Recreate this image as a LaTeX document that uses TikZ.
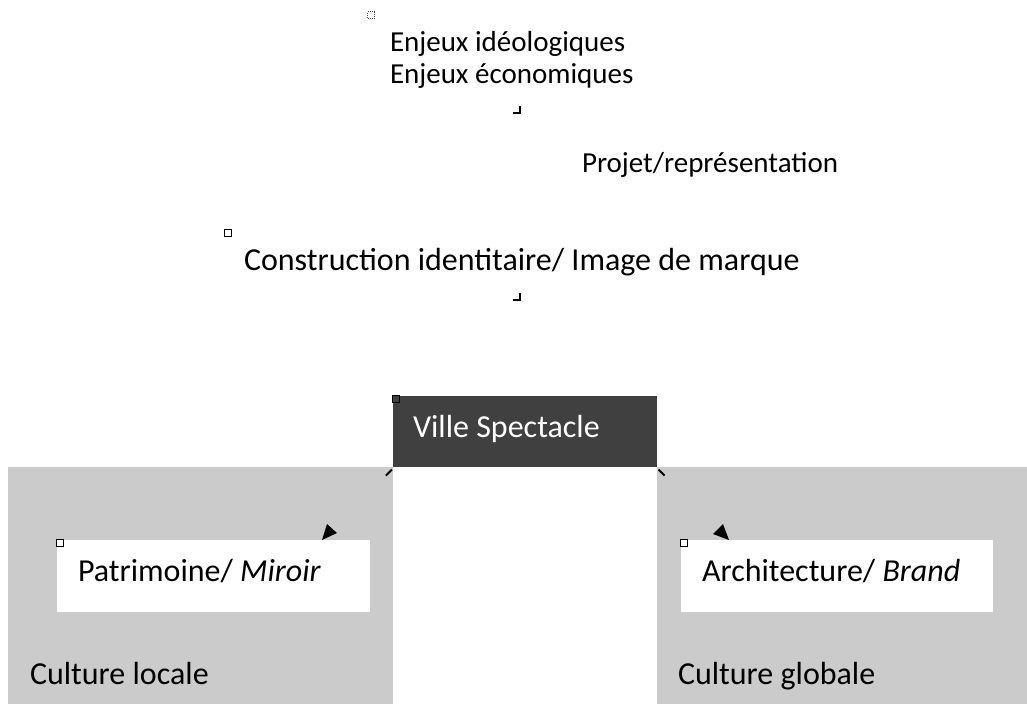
\documentclass[tikz,border=0pt]{standalone}
\usepackage{fontspec}
\setmainfont{Carlito}
\definecolor{darkbox}{HTML}{404040}
\definecolor{lightbox}{HTML}{CBCBCB}
\tikzset{
  txt/.style={anchor=base west, inner sep=0pt, outer sep=0pt},
  smalltxt/.style={txt, font=\fontsize{21.75pt}{26pt}\selectfont},
  bigtxt/.style={txt, font=\fontsize{24pt}{29pt}\selectfont},
  handle/.style={draw=black, fill=white, line width=1pt, minimum size=5pt, inner sep=0pt, outer sep=0pt},
  corner/.style={line width=1.8pt},
  tip/.style={fill=black},
}
\begin{document}
\begin{tikzpicture}[x=0.75pt,y=-0.75pt]
\useasboundingbox (0,0) rectangle (1027,704);
\fill[white] (0,0) rectangle (1027,704);
% top texts
\node[draw=black!70, densely dotted, line width=0.6pt, minimum size=5pt, inner sep=0pt] (dot) at (371,15) {};
\node[smalltxt] (enj1) at (390,51) {Enjeux idéologiques};
\node[smalltxt] (enj2) at (390,83) {Enjeux économiques};
\draw[corner] (520,106) -- (520,113) -- (513,113);
\node[smalltxt] (proj) at (582,172) {Projet/représentation};
\node[handle] (h1) at (228,233) {};
\node[bigtxt] (constr) at (244,270) {Construction identitaire/ Image de marque};
\draw[corner] (520,293) -- (520,300) -- (513,300);
% grey boxes
\fill[lightbox] (8,467) rectangle (393,704);
\fill[lightbox] (657,467) rectangle (1027,704);
\node[fill=darkbox, minimum width=264*0.75pt, minimum height=71*0.75pt, inner sep=0pt, anchor=north west] (ville) at (393,396) {};
\node[txt, text=white, font=\fontsize{24pt}{29pt}\selectfont] (villetxt) at (413,437) {Ville Spectacle};
\node[handle, fill=darkbox] (h2) at (396,399) {};
\draw[line width=1.5pt] (ville.south west) ++(-7,8) -- ++(6,-6);
\draw[line width=1.5pt] (ville.south east) ++(1,2) -- ++(6,6);
% white inner boxes
\node[fill=white, minimum width=313*0.75pt, minimum height=72*0.75pt, inner sep=0pt, anchor=north west] (patri) at (57,540) {};
\node[bigtxt] (patritxt) at (78,581) {Patrimoine/ \textit{Miroir}};
\node[handle] (h3) at (60,543) {};
\fill[tip] (322,540) -- (327,524) -- (337,533) -- cycle;
\node[fill=white, minimum width=312*0.75pt, minimum height=72*0.75pt, inner sep=0pt, anchor=north west] (archi) at (681,540) {};
\node[bigtxt] (architxt) at (702,581) {Architecture/ \textit{Brand}};
\node[handle] (h4) at (684,543) {};
\fill[tip] (713,534) -- (723,524) -- (729,540) -- cycle;
% culture labels
\node[bigtxt] (cloc) at (30,684) {Culture locale};
\node[bigtxt] (cglob) at (678,684) {Culture globale};
\end{tikzpicture}
\end{document}
